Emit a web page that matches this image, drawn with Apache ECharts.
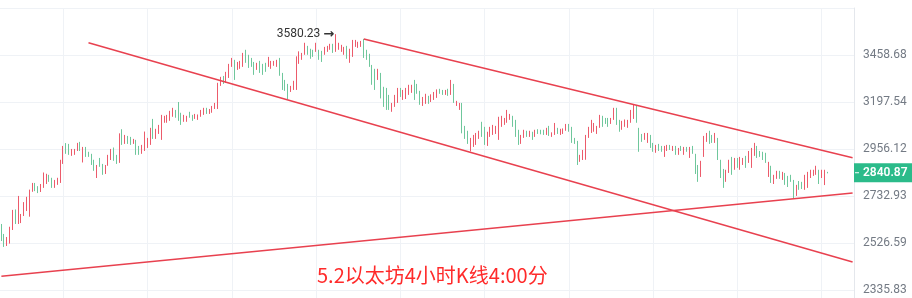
<!DOCTYPE html>
<html><head><meta charset="utf-8">
<script src="https://cdn.jsdelivr.net/npm/echarts@6/dist/echarts.min.js"></script>
<style>html,body{margin:0;padding:0;background:#fff}#c{width:912px;height:298px}</style>
</head><body><div id="c"></div>
<script>
// ---- data (ETH 4h candles) ----
const opens = [2604,2561,2519,2528,2608,2666,2613,2617,2648,2670,2700,2756,2789,2774,2756,2779,2793,2826,2812,2774,2788,2798,2888,2976,2971,2927,2932,2951,2986,2898,2961,2937,2927,2898,2821,2907,2878,2840,2878,2907,2956,2922,2893,3052,2986,3016,3011,2986,2996,2966,
2937,2951,2966,2981,3062,3011,3036,3011,3093,3093,3103,3124,3150,3150,3134,3098,3098,3140,3124,3113,3108,3124,3134,3160,3140,3145,3166,3166,3290,3328,3306,3334,3396,3418,3379,3384,3396,3482,3453,3436,3413,3379,3418,3401,3407,3396,3384,3401,3396,3430,
3351,3312,3290,3257,3268,3273,3430,3436,3465,3505,3488,3482,3482,3482,3476,3465,3482,3494,3517,3488,3494,3482,3465,3505,3418,3453,3511,3505,3511,3540,3482,3459,3396,3330,3323,3351,3273,3230,3219,3150,3176,3197,3268,3213,3219,3241,3251,3306,3290,3246,
3182,3192,3224,3203,3213,3224,3262,3257,3241,3262,3241,3290,3184,3160,3187,3067,3042,2971,2971,2981,3011,3087,3062,2976,3021,3031,3036,3006,3072,3082,3093,3108,3119,3098,3047,2986,3016,3042,3021,3036,3021,3050,3047,3047,3031,3067,3021,3031,3057,3031,
3036,3052,3077,3062,3006,2991,2898,2907,2912,3016,3042,3047,3036,3067,3119,3108,3108,3087,3108,3160,3098,3057,3072,3067,3093,3113,3171,3057,3026,3006,2991,3021,2981,2942,2976,2966,2927,2951,2971,2951,2966,2932,2966,2932,2961,2917,2966,2927,2874,2826,
2922,2996,3042,3021,2991,3006,2898,2855,2802,2845,2912,2859,2907,2859,2883,2917,2893,2903,2927,2966,2942,2937,2932,2826,2869,2793,2816,2845,2812,2835,2821,2826,2802,2751,2798,2793,2765,2774,2821,2831,2835,2850,2821,2788,2843];
const closes = [2540,2519,2548,2591,2661,2613,2728,2648,2701,2724,2758,2789,2761,2751,2784,2835,2831,2802,2774,2802,2812,2898,2961,2937,2932,2951,2951,2976,2951,2961,2922,2922,2883,2855,2874,2874,2835,2874,2922,2951,2907,2888,3026,2981,3021,2986,2981,3001,2932,2932,
2966,3036,3006,3057,3011,3052,3072,3124,3119,3124,3145,3155,3119,3108,3082,3124,3119,3119,3103,3129,3126,3150,3160,3140,3155,3171,3187,3290,3323,3301,3356,3396,3430,3323,3413,3418,3459,3418,3390,3396,3351,3407,3362,3351,3367,3441,3418,3418,3424,3345,
3268,3262,3224,3279,3306,3441,3470,3465,3523,3465,3441,3453,3523,3436,3424,3499,3505,3517,3476,3535,3523,3511,3499,3441,3488,3540,3540,3529,3535,3447,3436,3396,3312,3268,3373,3224,3182,3160,3166,3187,3230,3268,3230,3257,3268,3284,3284,3213,3246,3187,
3219,3235,3192,3232,3246,3260,3246,3241,3257,3235,3301,3197,3197,3187,3042,3011,2986,3006,3021,3031,3042,3021,2981,3036,3062,3072,3067,3113,3119,3108,3145,3129,3072,3021,2981,3021,3047,3021,3042,3006,3047,3036,3034,3031,3057,3026,3034,3082,3036,3052,
3054,3077,3047,2991,2986,2883,2922,2946,3021,3062,3098,3082,3067,3124,3072,3087,3072,3108,3160,3082,3047,3093,3100,3098,3150,3176,3093,2951,2996,3031,3031,2966,2946,2971,2951,2946,2966,2971,2956,2966,2932,2956,2951,2961,2946,2961,2937,2840,2802,2893,
3011,3031,2986,2991,3031,2907,2821,2779,2850,2898,2835,2907,2869,2912,2907,2869,2942,2956,2981,2917,2922,2907,2893,2888,2798,2826,2845,2816,2840,2788,2779,2802,2761,2779,2765,2770,2826,2840,2850,2850,2864,2793,2850,2850,2840.87];
const highs = [2608,2565,2552,2596,2670,2672,2733,2652,2705,2729,2762,2793,2793,2778,2788,2842,2836,2831,2817,2807,2817,2903,2971,2985,2981,2956,2956,2986,2991,2966,2966,2942,2932,2903,2878,2912,2883,2878,2927,2956,2963,2927,3034,3055,3026,3021,3016,3006,3001,2971,
2976,3043,3011,3062,3108,3057,3077,3129,3124,3129,3150,3166,3155,3197,3140,3129,3124,3145,3129,3134,3131,3155,3166,3166,3160,3176,3192,3301,3334,3339,3362,3407,3441,3430,3418,3424,3470,3488,3459,3441,3418,3413,3424,3407,3413,3447,3424,3424,3430,3441,
3356,3317,3295,3284,3312,3450,3479,3470,3529,3511,3494,3488,3529,3488,3482,3505,3511,3523,3523,3580.23,3529,3517,3505,3511,3494,3546,3546,3535,3540,3552,3488,3465,3401,3379,3379,3356,3279,3273,3235,3192,3235,3273,3273,3262,3273,3290,3290,3317,3295,3257,
3224,3241,3230,3238,3251,3265,3268,3262,3262,3268,3317,3295,3203,3192,3192,3072,3047,3011,3026,3036,3047,3093,3067,3042,3067,3077,3072,3119,3124,3113,3155,3134,3124,3103,3052,3026,3052,3047,3047,3042,3052,3055,3052,3052,3062,3072,3039,3087,3062,3057,
3059,3082,3082,3067,3011,2996,2927,2951,3026,3067,3103,3087,3072,3129,3124,3113,3113,3113,3166,3166,3103,3098,3105,3103,3155,3184,3176,3062,3031,3036,3036,3026,2986,2976,2981,2971,2971,2976,2976,2971,2971,2961,2971,2966,2966,2966,2971,2932,2878,2898,
3021,3036,3047,3026,3036,3011,2903,2859,2855,2903,2917,2912,2912,2917,2912,2922,2946,2961,2986,2971,2946,2942,2937,2893,2874,2831,2850,2850,2845,2840,2826,2831,2807,2784,2802,2798,2831,2845,2855,2855,2874,2855,2855,2855,2845];
const lows = [2535,2510,2514,2524,2582,2608,2608,2612,2643,2665,2640,2752,2755,2746,2751,2770,2788,2798,2770,2770,2784,2793,2883,2932,2927,2922,2927,2946,2946,2890,2917,2917,2878,2850,2816,2869,2831,2835,2874,2902,2898,2883,2888,2976,2981,2981,2976,2981,2927,2927,
2932,2946,2961,2976,3006,3006,3031,3001,3088,3088,3098,3119,3114,3098,3077,3093,3093,3114,3098,3108,3103,3119,3129,3134,3134,3140,3160,3160,3284,3295,3301,3328,3390,3317,3373,3379,3390,3413,3384,3390,3345,3373,3356,3345,3362,3390,3379,3396,3390,3340,
3262,3257,3213,3251,3262,3262,3407,3430,3459,3459,3436,3447,3476,3430,3418,3459,3476,3488,3470,3476,3488,3476,3459,3436,3413,3447,3505,3499,3505,3441,3430,3390,3290,3262,3317,3216,3171,3155,3155,3145,3171,3192,3224,3208,3213,3235,3246,3208,3241,3182,
3176,3187,3187,3197,3208,3219,3241,3235,3235,3230,3235,3192,3176,3155,3034,3006,2981,2944,2966,2976,3006,3016,2976,2971,3016,3026,3031,3001,3067,3077,3088,3103,3067,3016,2976,2981,3011,3016,3016,3001,3016,3031,3029,3026,3026,3021,3016,3026,3031,3026,
3031,3047,3042,2986,2981,2878,2893,2902,2903,3011,3036,3042,3031,3062,3067,3082,3067,3082,3103,3077,3042,3052,3067,3062,3088,3108,3088,2942,2991,3001,2986,2961,2942,2937,2946,2942,2917,2946,2951,2946,2927,2927,2946,2927,2942,2912,2932,2835,2798,2821,
2917,2991,2981,2986,2986,2902,2816,2770,2798,2840,2831,2855,2864,2855,2878,2864,2888,2864,2922,2912,2917,2902,2888,2821,2793,2788,2812,2812,2807,2784,2774,2798,2722,2733,2761,2765,2761,2770,2816,2826,2831,2788,2816,2783,2838];
const categoryCount = 304;
const categories = Array.from({length: categoryCount}, (_, i) => String(i));
const yTickLabels = [2335.83, 2526.59, 2732.93, 2956.12, 3197.54, 3458.68];
const yRange = [2304.9, 3740];
const titleText = '5.2以太坊4小时K线4:00分';
// trend lines: [category index, price] anchors
const trendLines = [
  [[31, 3529], [303, 2448]],
  [[129, 3552], [303, 2912.6]],
  [[0, 2390.2], [303, 2746.9]]
];

// ---- build ----
const upColor = '#ec5b6b', downColor = '#6fc79c', lineColor = '#e8414f';
const candleData = opens.map((o, i) => [o, closes[i], lows[i], highs[i]]);
const lastClose = closes[closes.length - 1];
// log base chosen so that integer powers fall on the tick labels
const ratio = Math.pow(yTickLabels[yTickLabels.length - 1] / yTickLabels[0], 1 / (yTickLabels.length - 1));
const kFirst = Math.round(Math.log(yTickLabels[0]) / Math.log(ratio));
const logBase = Math.pow(yTickLabels[0], 1 / kFirst);

const markLineData = trendLines.map(t => [
  {coord: [String(t[0][0]), t[0][1]]},
  {coord: [String(t[1][0]), t[1][1]]}
]);
markLineData.push({
  yAxis: lastClose,
  lineStyle: {color: 'rgba(0,0,0,0)', width: 0},
  label: {
    show: true, position: 'end', distance: 0,
    formatter: p => '{t|}{v|' + Number(p.value).toFixed(2) + '}',
    backgroundColor: '#2bbb8a', padding: [3, 8, 3, 1],
    rich: {
      t: {width: 4, height: 1, backgroundColor: '#ffffff'},
      v: {color: '#ffffff', fontSize: 12, fontWeight: 600, fontFamily: 'Roboto', padding: [0, 0, 0, 4], lineHeight: 13}
    }
  }
});

const chart = echarts.init(document.getElementById('c'), null, {renderer: 'canvas'});
chart.setOption({
  animation: false,
  backgroundColor: '#ffffff',
  title: {
    text: titleText, left: 317, top: 265, padding: 0,
    textStyle: {color: '#ff2a2a', fontSize: 20, fontWeight: 'normal', fontFamily: 'Noto Sans CJK SC'}
  },
  grid: {left: 0, right: 58, top: 8, bottom: 0, containLabel: false},
  xAxis: {
    type: 'category', data: categories, boundaryGap: true,
    axisLine: {show: false}, axisTick: {show: false}, axisLabel: {show: false},
    splitLine: {show: true, alignWithLabel: true, interval: (idx) => idx >= 22 && (idx - 22) % 30 === 0,
      lineStyle: {color: '#eff2f6', width: 1}}
  },
  yAxis: {
    type: 'log', logBase: logBase, position: 'right', min: yRange[0], max: yRange[1],
    axisLine: {show: true, lineStyle: {color: '#e4e7ec'}},
    axisTick: {show: false},
    axisLabel: {
      show: true, margin: 9, color: '#737a84', fontSize: 12, fontFamily: 'Roboto',
      showMinLabel: false, showMaxLabel: false,
      formatter: (v) => {
        const hit = yTickLabels.find(l => Math.abs(Math.log(v / l)) < 0.01);
        return hit ? hit.toFixed(2) : '';
      }
    },
    splitLine: {show: true, lineStyle: {color: '#eff2f6', width: 1}}
  },
  series: [{
    type: 'candlestick',
    data: candleData,
    barWidth: 1.2,
    itemStyle: {color: upColor, color0: downColor, borderColor: upColor, borderColor0: downColor, borderWidth: 1},
    markLine: {
      silent: true, symbol: ['none', 'none'], animation: false,
      lineStyle: {color: lineColor, width: 1.5, type: 'solid'},
      label: {show: false},
      data: markLineData
    },
    markPoint: {
      silent: true, symbol: 'circle', symbolSize: 1, animation: false,
      itemStyle: {color: 'rgba(0,0,0,0)'},
      label: {show: true, position: 'left', distance: 1, color: '#333333', fontSize: 12, fontFamily: 'Roboto',
        formatter: p => Number(p.value).toFixed(2) + ' {a|\u2192}',
        rich: {a: {fontSize: 13, fontWeight: 'bold', color: '#333333', fontFamily: 'DejaVu Sans'}}},
      data: [{type: 'max', valueDim: 'highest'}]
    }
  }]
});
</script></body></html>
